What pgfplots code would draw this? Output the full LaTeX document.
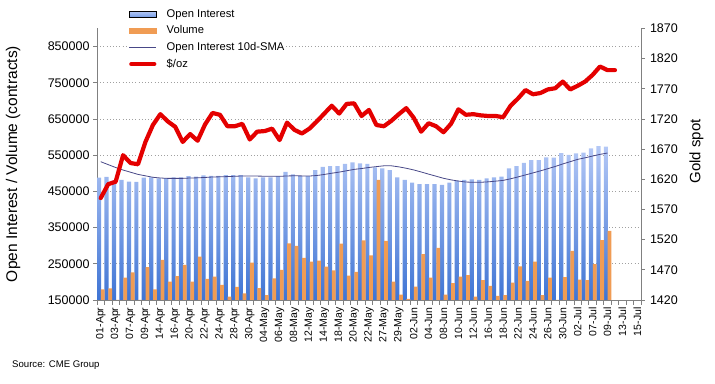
\documentclass[border=0pt]{standalone}
\usepackage{fontspec}
\setmainfont{Liberation Sans}
\usepackage{pgfplots}
\pgfplotsset{compat=1.18}
\usepackage{pgfplotstable}
\definecolor{oitop}{RGB}{180,200,246}
\definecolor{oibot}{RGB}{62,116,212}
\definecolor{oimid}{RGB}{120,158,230}
\definecolor{volc}{RGB}{240,156,84}
\definecolor{smac}{RGB}{72,72,135}
\definecolor{goldc}{RGB}{228,0,0}
\definecolor{axc}{RGB}{128,128,128}
\definecolor{gridc}{RGB}{160,160,160}

\pgfplotstableread{
idx oi vol
0 488000 179500
1 490000 182000
2 480000 140000
3 482000 212000
4 477000 226000
5 476000 140000
6 488000 241000
7 489000 179500
8 486000 261000
9 487000 200600
10 489000 216000
11 489000 247000
12 492000 200600
13 491000 269500
14 494000 208500
15 493000 214300
16 493000 192000
17 495000 159000
18 495000 186000
19 495000 168400
20 489000 253000
21 486000 183000
22 489000 163800
23 489000 210000
24 492000 233000
25 504000 306600
26 497000 299500
27 492000 266500
28 492000 256000
29 509000 259000
30 518000 242000
31 520000 231500
32 520000 305600
33 526000 217500
34 530000 228000
35 527500 314700
36 526000 273000
37 516500 481500
38 513700 313000
39 509000 200600
40 489000 164700
41 481500 153300
42 474000 186800
43 470000 277000
44 470000 211700
45 470000 293700
46 468000 164700
47 474000 196900
48 480000 214500
49 481500 219000
50 483000 159000
51 481500 205000
52 486000 188700
53 489000 161400
54 491000 163800
55 513700 197800
56 520000 243000
57 529000 203000
58 536700 255900
59 536700 163800
60 544000 212000
61 543000 140000
62 556000 213500
63 551000 285700
64 555000 206000
65 557000 205000
66 569000 249400
67 575000 315700
68 573500 341000
}\bars

\pgfplotstableread{
idx sma
0 532000
1 524000
2 516000
3 509000
4 503000
5 497000
6 493000
7 489000
8 487000
9 486000
10 486000
11 486000
12 487000
13 487500
14 488500
15 489800
16 490300
17 490900
18 491800
19 492600
20 492600
21 492300
22 492000
23 491800
24 491600
25 492700
26 493100
27 492800
28 492500
29 493900
30 496800
31 500200
32 503300
33 507000
34 510800
35 513200
36 516100
37 518500
38 520700
39 520700
40 517800
41 513900
42 509300
43 503700
44 497700
45 492000
46 486200
47 481900
48 478600
49 475800
50 475200
51 475200
52 476400
53 478300
54 480400
55 484800
56 490000
57 495500
58 501100
59 506700
60 512800
61 518900
62 525900
63 532100
64 538500
65 542800
66 547700
67 552300
68 556000
}\smat

\pgfplotstableread{
idx gold
0 1589
1 1612
2 1616
3 1660
4 1647
5 1645
6 1682
7 1710
8 1728
9 1716
10 1707
11 1682
12 1695
13 1684
14 1711
15 1730
16 1727
17 1708
18 1708
19 1712
20 1686
21 1699
22 1700
23 1704
24 1685
25 1714
26 1702
27 1696
28 1704
29 1716
30 1729
31 1742
32 1729
33 1745
34 1746
35 1725
36 1735
37 1710
38 1708
39 1717
40 1728
41 1738
42 1722
43 1699
44 1713
45 1708
46 1698
47 1712
48 1736
49 1727
50 1728
51 1726
52 1725
53 1725
54 1723
55 1742
56 1754
57 1768
58 1761
59 1763
60 1769
61 1771
62 1782
63 1769
64 1775
65 1782
66 1793
67 1807
68 1801
69 1801
}\goldt

\begin{document}
\begin{tikzpicture}
\useasboundingbox (0pt,0pt) rectangle (715pt,383pt);
\begin{axis}[
  at={(97pt,83pt)}, anchor=south west, scale only axis,
  width=544pt, height=271.5pt,
  xmin=-0.5, xmax=72.5, ymin=150000, ymax=900000,
  axis y line*=left, axis x line*=bottom,
  axis line style={-, draw=axc, line width=0.8pt},
  tick align=outside, major tick length=4pt, minor tick length=4.5pt,
  ytick={150000,250000,...,850000},
  ymajorgrids,
  grid style={gridc, line width=0.8pt, dash pattern=on 1pt off 2.2pt},
  scaled y ticks=false,
  /pgf/number format/assume math mode=true,
  y tick label style={/pgf/number format/fixed, /pgf/number format/1000 sep={}, font=\fontsize{12.5}{14}\selectfont},
  ytick style={draw=axc, line width=0.8pt},
  xtick={0,2,...,72},
  xticklabels={01-Apr,03-Apr,07-Apr,09-Apr,14-Apr,16-Apr,20-Apr,22-Apr,24-Apr,28-Apr,30-Apr,04-May,06-May,08-May,12-May,14-May,18-May,20-May,22-May,27-May,29-May,02-Jun,04-Jun,08-Jun,10-Jun,12-Jun,16-Jun,18-Jun,22-Jun,24-Jun,26-Jun,30-Jun,02-Jul,07-Jul,09-Jul,13-Jul,15-Jul},
  x tick label style={rotate=90, anchor=east, font=\fontsize{10.5}{12}\selectfont},
  minor xtick={-0.5,0.5,...,72.5},
  major x tick style={draw=none},
  minor x tick style={draw=axc, line width=0.8pt},
  ylabel={Open Interest / Volume (contracts)},
  every axis y label/.style={at={(axis description cs:-0.1544,0.501)}, rotate=90, anchor=center, font=\fontsize{15.5}{17}\selectfont},
  clip=true,
]
\addplot[ybar, bar width=4.2pt, bar shift=-1.6pt, draw=none, top color=oitop, bottom color=oibot] table[x=idx,y=oi]{\bars};
\addplot[ybar, bar width=3.8pt, bar shift=2.1pt, draw=none, fill=volc] table[x=idx,y=vol]{\bars};
\addplot[smac, line width=0.8pt, no marks] table[x=idx,y=sma]{\smat};
\end{axis}
\begin{axis}[
  at={(97pt,83pt)}, anchor=south west, scale only axis,
  width=544pt, height=271.5pt,
  xmin=-0.5, xmax=72.5, ymin=1420, ymax=1870,
  axis y line*=right, axis x line=none,
  axis line style={-, draw=axc, line width=0.8pt},
  tick align=outside, major tick length=4pt,
  xtick=\empty,
  ytick={1420,1470,...,1870},
  /pgf/number format/assume math mode=true,
  y tick label style={/pgf/number format/fixed, /pgf/number format/1000 sep={}, font=\fontsize{12.5}{14}\selectfont, xshift=1.5pt},
  ytick style={draw=axc, line width=0.8pt},
  ylabel={Gold spot},
  every axis y label/.style={at={(axis description cs:1.102,0.547)}, rotate=90, anchor=center, font=\fontsize{15}{17}\selectfont},
  legend style={at={(axis description cs:0.0546,1.078)}, anchor=north west, draw=none, fill=white,
    font=\fontsize{11.2}{13}\selectfont, row sep=5.7pt, column sep=10pt,
    inner xsep=2pt, inner ysep=1pt,
    nodes={inner sep=0pt, text height=8.5pt, text depth=2.5pt}},
  legend cell align=left,
]
\addlegendimage{legend image code/.code={\fill[top color=oitop, bottom color=oimid] (0pt,-2.8pt) rectangle (27pt,2.8pt);}}
\addlegendentry{Open Interest}
\addlegendimage{legend image code/.code={\fill[volc] (0pt,-2.8pt) rectangle (27pt,2.8pt);}}
\addlegendentry{Volume}
\addlegendimage{legend image code/.code={\draw[smac, line width=0.8pt] (0pt,0pt) -- (27pt,0pt);}}
\addlegendentry{Open Interest 10d-SMA}
\addplot[goldc, line width=4.2pt, line join=round, line cap=round, no marks,
  legend image code/.code={\draw[goldc, line width=4.2pt, line cap=round] (2pt,0pt) -- (25pt,0pt);}]
  table[x=idx,y=gold]{\goldt};
\addlegendentry{\$/oz}
\end{axis}
\node[anchor=west, font=\fontsize{9.6}{11}\selectfont, inner sep=0pt] at (12pt,18pt) {Source: CME Group};
\end{tikzpicture}
\end{document}
